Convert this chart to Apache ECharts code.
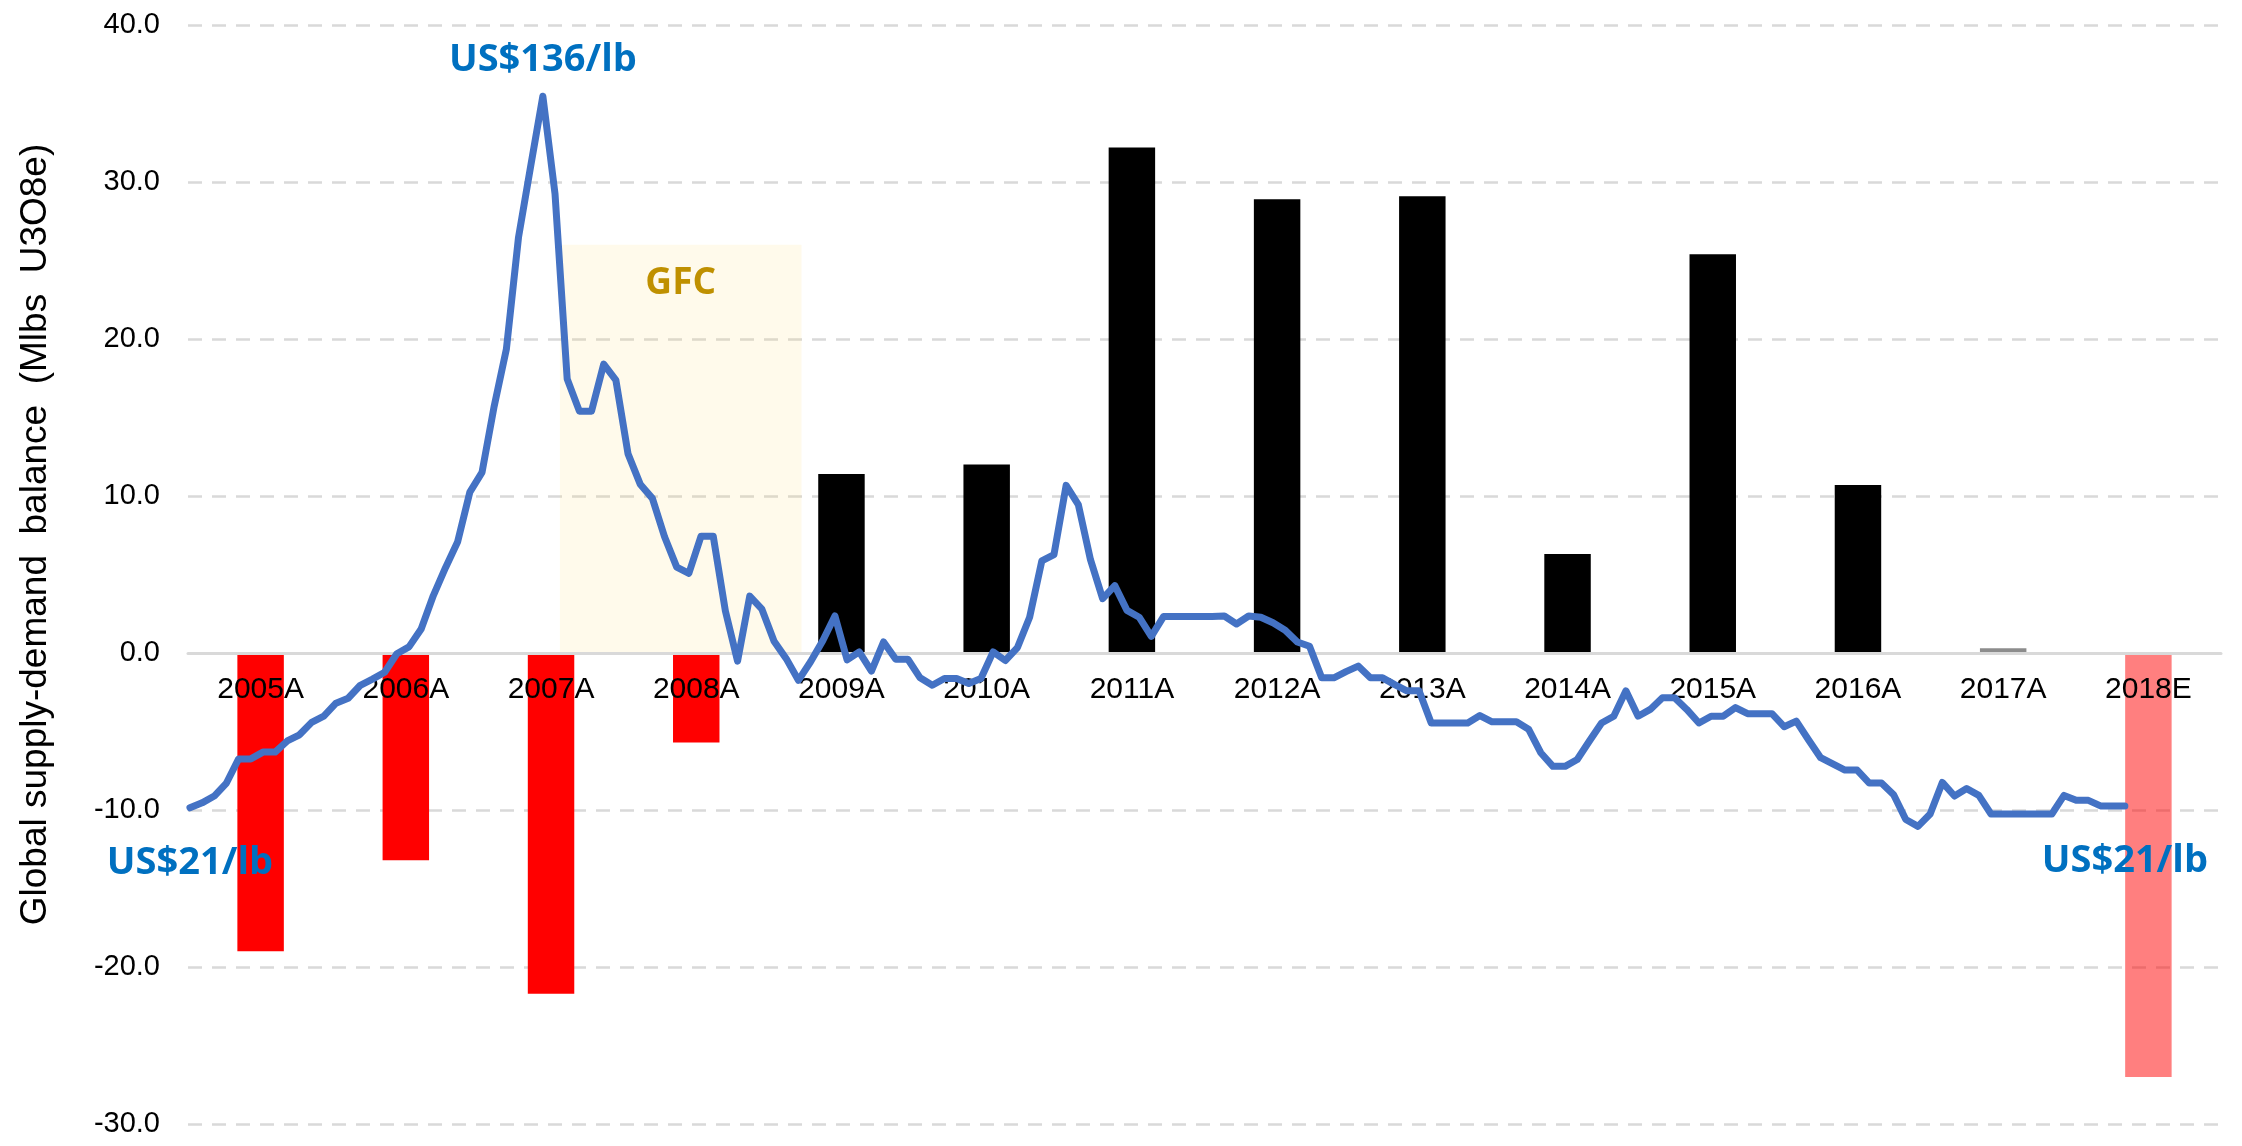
<!DOCTYPE html>
<html>
<head>
<meta charset="utf-8">
<title>Uranium supply-demand balance</title>
<script src="https://cdn.jsdelivr.net/npm/echarts@6/dist/echarts.min.js"></script>
<style>
  html, body { margin: 0; padding: 0; background: #fff; }
  #chart { width: 2242px; height: 1146px; }
</style>
</head>
<body>
<div id="chart"></div>
<script>
// annual supply-demand balance (Mlbs U3O8e)
var years = ['2005A','2006A','2007A','2008A','2009A','2010A','2011A','2012A','2013A','2014A','2015A','2016A','2017A','2018E'];
var balance = [-19.0, -13.2, -21.7, -5.7, 11.4, 12.0, 32.2, 28.9, 29.1, 6.3, 25.4, 10.7, 0.3, -27.0];
var barColours = ['#FF0000','#FF0000','#FF0000','#FF0000','#000000','#000000','#000000','#000000',
                  '#000000','#000000','#000000','#000000','#8C8C8C','rgba(255,0,0,0.5)'];

// monthly spot price, Jan 2005 .. Apr 2018 (US$/lb)
var spotPrice = [
  21.0, 21.8, 22.9, 25.0, 28.9, 28.9, 30.0, 30.0, 31.8, 32.8,
  34.8, 35.8, 37.9, 38.7, 40.8, 41.8, 42.9, 45.9, 47.0, 49.9,
  55.3, 59.8, 64.0, 72.0, 75.2, 85.9, 95.1, 113.2, 124.7, 136.0,
  120.2, 90.3, 85.1, 85.1, 92.7, 90.1, 78.2, 73.3, 71.0, 64.8,
  59.9, 58.9, 64.9, 64.9, 52.8, 44.7, 55.2, 53.1, 47.9, 45.1,
  41.6, 44.6, 48.0, 52.0, 44.9, 46.2, 43.1, 47.8, 45.0, 45.0,
  42.0, 40.8, 41.9, 41.9, 41.1, 41.9, 46.2, 44.8, 46.9, 51.8,
  60.9, 61.9, 73.1, 70.0, 61.1, 54.8, 56.9, 52.9, 51.8, 48.7,
  51.9, 51.9, 51.9, 51.9, 51.9, 52.0, 50.7, 52.0, 51.8, 50.9,
  49.7, 47.8, 47.1, 42.0, 42.0, 43.0, 43.9, 42.0, 42.0, 40.9,
  39.9, 39.9, 34.7, 34.7, 34.7, 34.7, 35.9, 34.9, 34.9, 34.9,
  33.7, 29.9, 27.7, 27.7, 28.8, 31.8, 34.7, 35.8, 39.9, 35.8,
  36.9, 38.8, 38.8, 36.9, 34.7, 35.8, 35.8, 37.2, 36.2, 36.2,
  36.2, 34.1, 35.0, 32.0, 29.1, 28.1, 27.1, 27.1, 25.0, 25.0,
  23.1, 19.1, 18.0, 20.0, 25.1, 22.9, 24.1, 23.0, 20.0, 20.0,
  20.0, 20.0, 20.0, 20.0, 23.0, 22.2, 22.2, 21.3, 21.3, 21.3
];

// GFC shading: months from Jan 2005, and height in balance units
var gfcMonths = [30.4, 50.25];
var gfcHeight = 26;

var yTicks = { min: -30, max: 40, step: 10 };

function priceText(p) {
  return 'US$' + Math.round(p) + '/lb';
}

var lastIdx = spotPrice.length - 1;
var peakIdx = 0;
for (var i = 1; i < spotPrice.length; i++) {
  if (spotPrice[i] > spotPrice[peakIdx]) peakIdx = i;
}

var barData = [];
for (var j = 0; j < balance.length; j++) {
  barData.push({ value: balance[j], itemStyle: { color: barColours[j] } });
}
var lineData = spotPrice.map(function (p, k) { return [k, p]; });

var gridTop = 25, gridBottom = 22, chartH = 1146;
// lift the category axis up to the zero line
var plotH = chartH - gridTop - gridBottom;
var zeroLift = -plotH * (0 - yTicks.min) / (yTicks.max - yTicks.min);

var labelFont = 'Liberation Sans, Arial, sans-serif';
var noteFont = 'Open Sans, Noto Sans, sans-serif';

var chart = echarts.init(document.getElementById('chart'), null, { renderer: 'canvas' });
chart.setOption({
  animation: false,
  backgroundColor: '#fff',
  grid: { left: 188, right: 21, top: gridTop, bottom: gridBottom, containLabel: false },
  xAxis: [
    {
      type: 'category',
      data: years,
      position: 'bottom',
      offset: zeroLift,
      z: 3,
      axisLine: { onZero: false, lineStyle: { color: '#D9D9D9', width: 3 } },
      axisTick: { show: false },
      axisLabel: { color: '#000', fontFamily: labelFont, fontSize: 30, margin: 22, interval: 0 },
      splitLine: { show: false }
    },
    {
      type: 'value',
      min: -0.16,
      max: 166.9,
      show: false
    }
  ],
  yAxis: [
    {
      type: 'value',
      min: yTicks.min,
      max: yTicks.max,
      interval: yTicks.step,
      name: 'Global supply-demand  balance  (Mlbs  U3O8e)',
      nameLocation: 'middle',
      nameGap: 134,
      nameTextStyle: { color: '#000', fontFamily: labelFont, fontSize: 37, padding: [0, 0, 0, 80] },
      axisLine: { show: false },
      axisTick: { show: false },
      axisLabel: {
        color: '#000', fontFamily: labelFont, fontSize: 29, margin: 28,
        formatter: function (v) { return v.toFixed(1); }
      },
      splitLine: { show: true, lineStyle: { color: '#D9D9D9', width: 2.7, type: [14, 10] } }
    },
    {
      type: 'value',
      min: -30.1,
      max: 147.5,
      show: false,
      splitLine: { show: false }
    }
  ],
  series: [
    {
      name: 'Balance',
      type: 'bar',
      xAxisIndex: 0,
      yAxisIndex: 0,
      barWidth: '32%',
      z: 2,
      data: barData
    },
    {
      name: 'Spot price',
      type: 'line',
      xAxisIndex: 1,
      yAxisIndex: 1,
      z: 4,
      symbol: 'none',
      smooth: false,
      lineStyle: { color: '#4472C4', width: 7, cap: 'round', join: 'round' },
      data: lineData,
      markPoint: {
        silent: true,
        symbol: 'circle',
        symbolSize: 0,
        label: {
          show: true, color: '#0070C0', fontFamily: noteFont, fontWeight: 'bold', fontSize: 38,
          formatter: function (p) { return p.name; }
        },
        data: [
          { name: priceText(spotPrice[0]), coord: [0, spotPrice[0]], label: { position: 'bottom', distance: 36 } },
          { name: priceText(spotPrice[peakIdx]), coord: [peakIdx, spotPrice[peakIdx]], label: { position: 'top', distance: 17 } },
          { name: priceText(spotPrice[lastIdx]), coord: [lastIdx, spotPrice[lastIdx]], label: { position: 'bottom', distance: 36 } }
        ]
      }
    },
    {
      name: 'GFC',
      type: 'line',
      xAxisIndex: 1,
      yAxisIndex: 0,
      z: 5,
      symbol: 'none',
      data: [],
      markArea: {
        silent: true,
        itemStyle: { color: 'rgba(255,217,102,0.13)' },
        label: {
          show: true, position: 'insideTop', distance: 20,
          color: '#BF9000', fontFamily: noteFont, fontWeight: 'bold', fontSize: 37
        },
        data: [[
          { name: 'GFC', coord: [gfcMonths[0], 0] },
          { coord: [gfcMonths[1], gfcHeight] }
        ]]
      }
    }
  ]
});
</script>
</body>
</html>
